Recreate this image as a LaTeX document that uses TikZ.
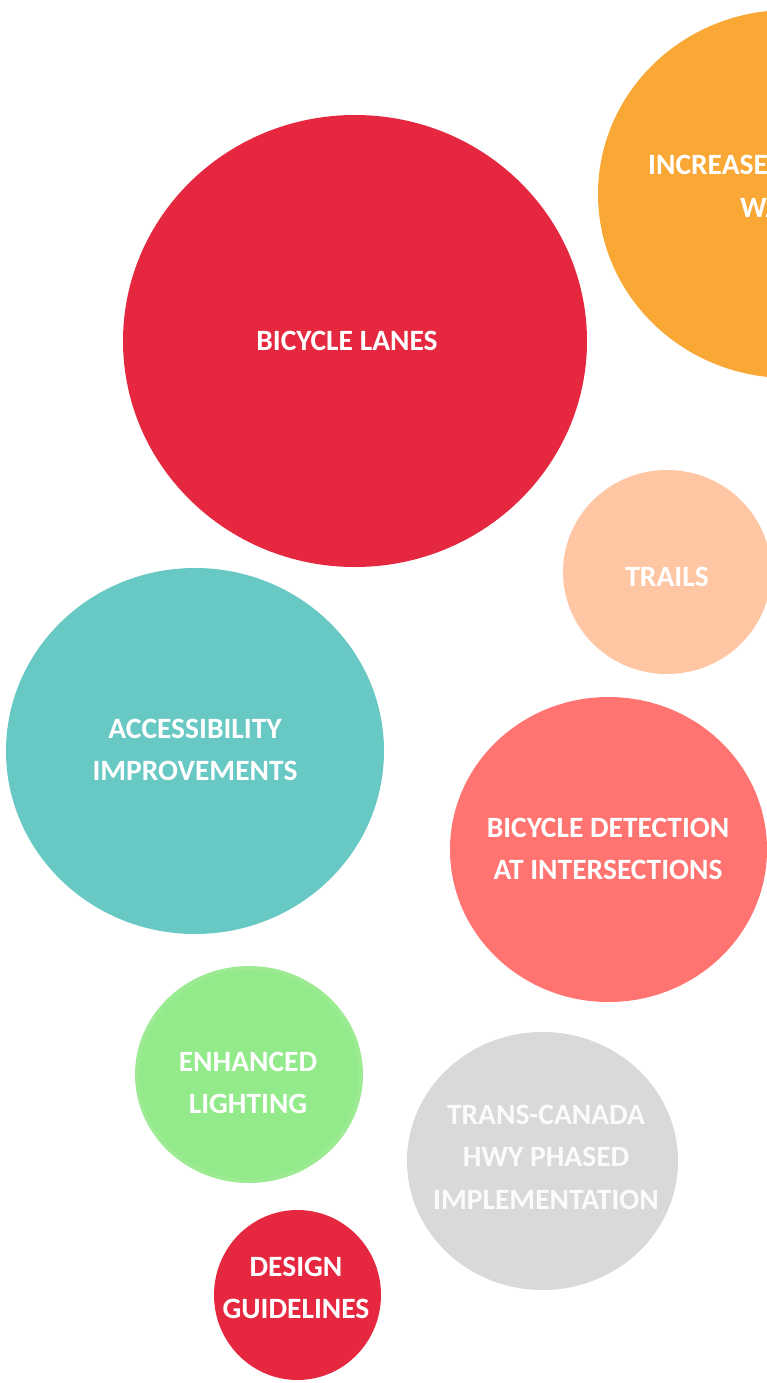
\documentclass[tikz,border=0pt]{standalone}
\usepackage{fontspec}
\setmainfont{Carlito}
\usetikzlibrary{shapes.geometric}
\definecolor{lanered}{HTML}{E5283F}
\definecolor{wayorange}{HTML}{F9A836}
\definecolor{trailpeach}{HTML}{FEC6A3}
\definecolor{accteal}{HTML}{68C8C4}
\definecolor{detsalmon}{HTML}{FF7370}
\definecolor{lightgreen}{HTML}{93EA8A}
\definecolor{lightgreenrim}{HTML}{9CEB92}
\definecolor{hwygrey}{HTML}{D9D9D9}
\begin{document}
\begin{tikzpicture}[x=1pt, y=-1pt,
  bubble/.style={ellipse, inner sep=0pt},
  tag/.style={inner sep=0pt, text=white, align=center,
    font=\fontsize{29.5}{42.5}\selectfont\bfseries}]
\useasboundingbox (0,0) rectangle (767,1383);
\clip (0,0) rectangle (767,1383);
% bubbles
\node[bubble, fill=lanered, minimum width=464, minimum height=452] (lanes) at (355,341){};
\node[bubble, fill=wayorange, minimum width=380, minimum height=368] (wayfind) at (788,194){};
\node[bubble, fill=trailpeach, minimum width=208, minimum height=204] (trails) at (667,572){};
\node[bubble, fill=accteal, minimum width=378, minimum height=366] (access) at (195,751){};
\node[bubble, fill=detsalmon, minimum width=317, minimum height=305] (detect) at (608.5,849.5){};
\node[bubble, fill=lightgreen, draw=lightgreenrim, line width=4pt, minimum width=224, minimum height=213] (light) at (249,1074.5){};
\node[bubble, fill=hwygrey, minimum width=271, minimum height=258] (hwy) at (542.5,1161){};
\node[bubble, fill=lanered, minimum width=167, minimum height=170] (design) at (297.5,1295){};
% labels
\node[tag] (lanes-t) at (347,341){BICYCLE LANES};
\node[tag, anchor=west] (wayfind-t1) at (648,165){INCREASED SIGNAGE};
\node[tag, anchor=west] (wayfind-t2) at (740,208){WAYFINDING};
\node[tag] (trails-t) at (667,577){TRAILS};
\node[tag] (access-t) at (195,750){ACCESSIBILITY\\IMPROVEMENTS};
\node[tag] (detect-t) at (608,849){BICYCLE DETECTION\\AT INTERSECTIONS};
\node[tag] (light-t) at (248,1083){ENHANCED\\LIGHTING};
\node[tag, text=white!90!hwygrey] (hwy-t) at (546,1157){TRANS-CANADA\\HWY PHASED\\IMPLEMENTATION};
\node[tag] (design-t) at (296,1288){DESIGN\\GUIDELINES};
\end{tikzpicture}
\end{document}
